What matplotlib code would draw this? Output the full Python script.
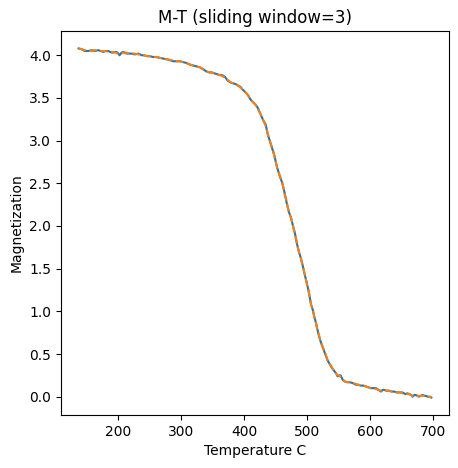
import matplotlib
matplotlib.use("Agg")
import matplotlib.pyplot as plt

temperature = [137, 142, 147, 152, 158, 163, 168, 172, 176, 180, 184, 190, 196, 199, 202, 205, 208, 213, 217, 221,
               226, 232, 237, 241, 245, 250, 255, 260, 266, 272, 279, 287, 292, 298, 303, 308, 314, 319, 324, 329,
               332, 336, 340, 344, 348, 352, 356, 360, 364, 369, 374, 379, 383, 387, 391, 394, 397, 400, 404, 407,
               410, 414, 418, 421, 424, 427, 430, 434, 437, 440, 443, 446, 448, 450, 452, 456, 460, 462, 464, 467,
               469, 471, 474, 476, 478, 480, 483, 485, 487, 490, 492, 495, 497, 499, 502, 504, 506, 509, 511, 514,
               516, 519, 521, 524, 527, 530, 532, 535, 538, 540, 543, 546, 548, 551, 553, 556, 559, 563, 567, 572,
               577, 581, 585, 589, 593, 597, 601, 605, 609, 613, 617, 620, 622, 626, 630, 634, 638, 642, 646, 651,
               656, 659, 662, 665, 667, 670, 672, 675, 677, 680, 683, 686, 688, 691, 694, 697]

magnetization = [4.08, 4.07, 4.05, 4.05, 4.06, 4.05, 4.06, 4.05, 4.04, 4.05, 4.05, 4.03, 4.04, 4.03, 4.00, 4.03, 4.04, 4.02, 4.02, 4.02,
                 4.01, 4.02, 4.00, 4.00, 3.99, 3.99, 3.98, 3.98, 3.97, 3.96, 3.95, 3.93, 3.93, 3.93, 3.92, 3.91, 3.89, 3.88, 3.87, 3.86,
                 3.85, 3.83, 3.81, 3.80, 3.80, 3.79, 3.78, 3.77, 3.77, 3.75, 3.70, 3.68, 3.67, 3.66, 3.64, 3.63, 3.60, 3.58, 3.55, 3.52,
                 3.48, 3.45, 3.42, 3.39, 3.34, 3.29, 3.24, 3.19, 3.08, 3.01, 2.94, 2.87, 2.82, 2.75, 2.69, 2.59, 2.51, 2.45, 2.39, 2.28,
                 2.22, 2.16, 2.10, 2.04, 1.98, 1.93, 1.81, 1.75, 1.69, 1.62, 1.56, 1.46, 1.40, 1.34, 1.24, 1.16, 1.08, 1.01, 0.94, 0.86,
                 0.79, 0.70, 0.65, 0.59, 0.53, 0.47, 0.43, 0.39, 0.35, 0.33, 0.30, 0.27, 0.24, 0.25, 0.25, 0.20, 0.18, 0.17, 0.17, 0.16,
                 0.14, 0.14, 0.13, 0.13, 0.12, 0.11, 0.10, 0.10, 0.10, 0.08, 0.06, 0.08, 0.08, 0.07, 0.07, 0.06, 0.06, 0.05, 0.05, 0.05,
                 0.03, 0.04, 0.03, 0.02, 0.00, 0.02, 0.02, 0.01, 0.00, 0.01, 0.02, 0.01, 0.01, 0.00, 0.00, -0.01]

magnetization_smoothed = [4.08, 4.07, 4.06, 4.05, 4.05, 4.06, 4.05, 4.05, 4.05, 4.05, 4.04, 4.04, 4.03, 4.02, 4.02, 4.02, 4.03, 4.03, 4.02, 4.02,
                          4.02, 4.01, 4.01, 4.00, 3.99, 3.99, 3.98, 3.98, 3.97, 3.96, 3.95, 3.94, 3.93, 3.93, 3.92, 3.91, 3.89, 3.88, 3.87, 3.86,
                          3.85, 3.83, 3.81, 3.80, 3.80, 3.79, 3.78, 3.77, 3.76, 3.74, 3.71, 3.68, 3.67, 3.66, 3.64, 3.62, 3.60, 3.58, 3.55, 3.52,
                          3.48, 3.45, 3.42, 3.38, 3.34, 3.29, 3.24, 3.17, 3.09, 3.01, 2.94, 2.88, 2.81, 2.75, 2.68, 2.60, 2.52, 2.45, 2.37, 2.30,
                          2.22, 2.16, 2.10, 2.04, 1.98, 1.91, 1.83, 1.75, 1.69, 1.62, 1.55, 1.47, 1.40, 1.33, 1.25, 1.16, 1.08, 1.01, 0.94, 0.86,
                          0.78, 0.71, 0.65, 0.59, 0.53, 0.48, 0.43, 0.39, 0.36, 0.33, 0.30, 0.27, 0.25, 0.25, 0.23, 0.21, 0.18, 0.17, 0.17, 0.16,
                          0.15, 0.14, 0.13, 0.13, 0.12, 0.11, 0.10, 0.10, 0.09, 0.08, 0.07, 0.07, 0.08, 0.07, 0.07, 0.06, 0.06, 0.05, 0.05, 0.04,
                          0.04, 0.03, 0.03, 0.02, 0.01, 0.01, 0.01, 0.01, 0.01, 0.01, 0.01, 0.01, 0.01, 0.00, 0.00, -0.01]

fig = plt.figure(figsize=(4.58, 4.68), dpi=100)
ax = fig.add_axes([61 / 458, 53 / 468, 388 / 458, 384 / 468])
ax.plot(temperature, magnetization, color="#1f77b4")
ax.plot(temperature, magnetization_smoothed, color="#ff7f0e", linestyle="--")
ax.set_title("M-T (sliding window=3)")
ax.set_xlabel("Temperature C")
ax.set_ylabel("Magnetization")
fig.savefig("out.png", dpi=100)
